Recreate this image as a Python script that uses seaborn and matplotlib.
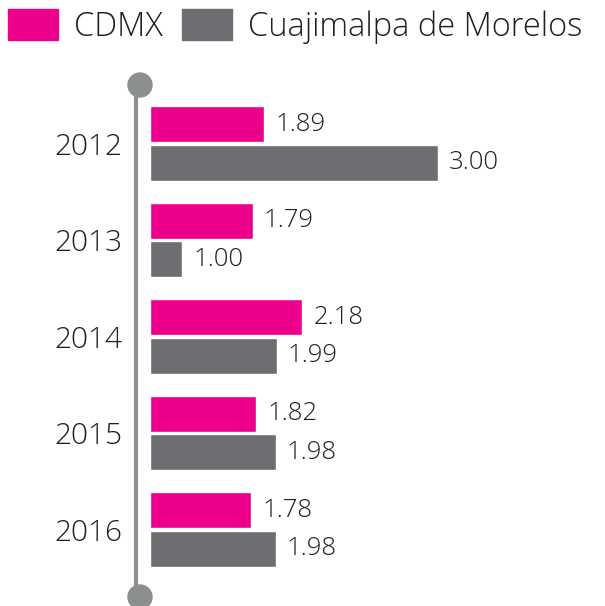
import numpy as np
import pandas as pd
import seaborn as sns
import matplotlib.pyplot as plt
from matplotlib.patches import Circle

# data
years = ['2012', '2013', '2014', '2015', '2016']
cdmx = [1.89, 1.79, 2.18, 1.82, 1.78]
cuaji = [3.00, 1.00, 1.99, 1.98, 1.98]
series = ['CDMX', 'Cuajimalpa de Morelos']
colors = ['#EC008C', '#6D6E71']

df = pd.DataFrame({
    'year': years * 2,
    'serie': [series[0]] * 5 + [series[1]] * 5,
    'value': cdmx + cuaji,
})

sns.set_style('white')
plt.rcParams['font.family'] = ['Open Sans', 'DejaVu Sans']
plt.rcParams['font.weight'] = 'light'

fig = plt.figure(figsize=(6.05, 6.06), dpi=100)
# axes: left edge 150px, top 85px, bottom 597px
ax = fig.add_axes([150 / 605, 9 / 606, 455 / 605, 512 / 606])

sns.barplot(data=df, y='year', x='value', hue='serie', orient='h',
            palette=colors, gap=0.07, width=0.8, legend=False, ax=ax,
            errorbar=None, saturation=1)

# bar lengths in the original are not linear; a squared scale follows them closely
ax.set_xscale('function', functions=(lambda v: np.sign(v) * v ** 2,
                                     lambda v: np.sign(v) * np.sqrt(np.abs(v))))
ax.set_xlim(0, 3.77)
ax.set_ylim(4.70, -0.606)

for c in ax.containers:
    ax.bar_label(c, fmt='%.2f', padding=8, fontsize=18.5, color='#231F20')

for s in ['top', 'right', 'bottom']:
    ax.spines[s].set_visible(False)
ax.spines['left'].set_position(('outward', 10))
ax.spines['left'].set_color('#8C8F8F')
ax.spines['left'].set_linewidth(3)
ax.set_xticks([])
ax.set_xlabel('')
ax.set_ylabel('')
ax.tick_params(axis='y', length=0, pad=10, labelsize=21.5, labelcolor='#231F20')

# round caps on the vertical line
for yy in [(606 - 85) / 100, (606 - 597) / 100]:
    fig.add_artist(Circle((1.40, yy), 0.12, transform=fig.dpi_scale_trans,
                          color='#8C8F8F', clip_on=False))

handles = [plt.Rectangle((0, 0), 1, 1, color=col) for col in colors]
fig.legend(handles, series, loc='upper left', bbox_to_anchor=(8 / 605, 1 - 9 / 606),
           ncol=2, frameon=False, fontsize=23.5, handlelength=1.52, handleheight=1.1,
           handletextpad=0.5, columnspacing=0.6, borderpad=0, borderaxespad=0,
           labelcolor='#231F20')

fig.savefig('out.png', dpi=100)
